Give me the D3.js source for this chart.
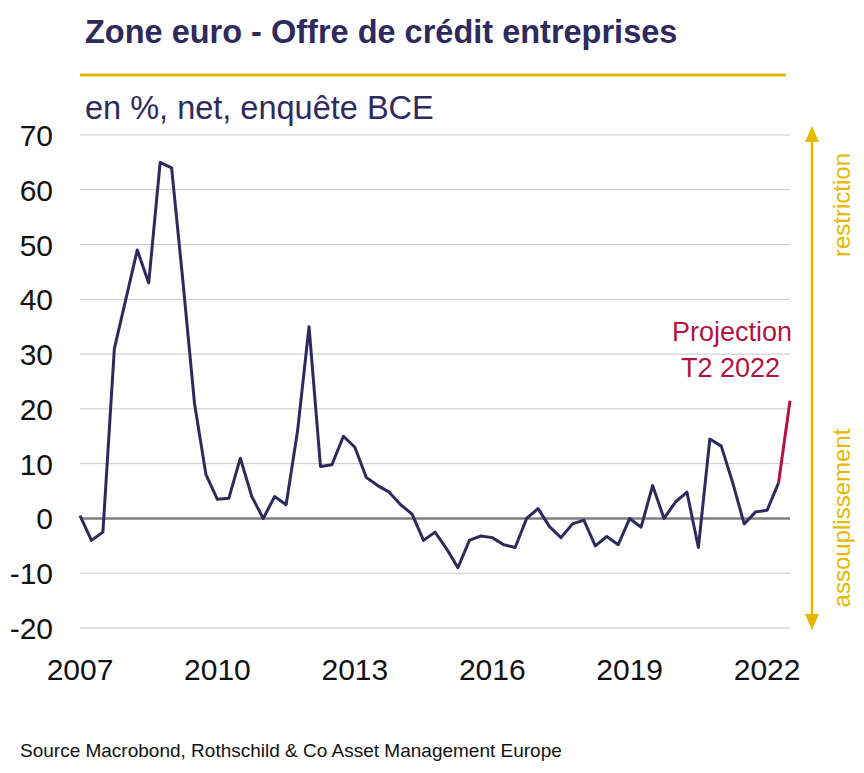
<!DOCTYPE html>
<html><head><meta charset="utf-8">
<script src="https://cdn.jsdelivr.net/npm/d3@7"></script>
<style>body{margin:0;background:#fff;font-family:"Liberation Sans",Arial,sans-serif}</style>
</head><body><div id="chart"></div>
<script>
// quarterly values, 2007 T1 .. 2022 T1
const values = [0.5,-4,-2.5,31,40,49,43,65,64,43,21,8,3.5,3.7,11,4,0,4,2.5,16,35,9.5,9.8,15,13,7.5,6,4.8,2.5,0.8,
  -4,-2.5,-5.5,-9,-4,-3.2,-3.5,-4.8,-5.3,0,1.8,-1.5,-3.5,-1,-0.3,-5,-3.3,-4.8,0,-1.6,6,0,3,4.8,-5.3,14.5,13.2,6.5,-1,1.2,1.5,6.5];
const projection = [6.5, 21.5];
const yTicks = [70,60,50,40,30,20,10,0,-10,-20];
const xLabels = [2007,2010,2013,2016,2019,2022];

const navy = "#2e2a5e", gold = "#e6b800", red = "#b5133f";
const W = 864, H = 773;
const svg = d3.select("#chart").append("svg").attr("width", W).attr("height", H);

const x = d3.scaleLinear().domain([0, values.length]).range([80, 790]);
const y = d3.scaleLinear().domain([-20, 70]).range([628, 135]);
const xl = d3.scaleLinear().domain([2007, 2022]).range([x(0), x(60)]);

svg.append("text").attr("x", 85).attr("y", 43).attr("fill", navy)
  .attr("font-size", 32.5).attr("font-weight", "bold").text("Zone euro - Offre de crédit entreprises");
svg.append("line").attr("x1", 80).attr("x2", 786).attr("y1", 75).attr("y2", 75)
  .attr("stroke", gold).attr("stroke-width", 3);
svg.append("text").attr("x", 85).attr("y", 119).attr("fill", navy)
  .attr("font-size", 32.5).text("en %, net, enquête BCE");

// gridlines
svg.append("g").selectAll("line").data(yTicks).join("line")
  .attr("x1", 80).attr("x2", 790).attr("y1", d => y(d)).attr("y2", d => y(d))
  .attr("stroke", d => d === 0 ? "#7f7f7f" : "#c8c8c8").attr("stroke-width", d => d === 0 ? 2.5 : 1);

svg.append("g").selectAll("text").data(yTicks).join("text")
  .attr("x", 53).attr("y", d => y(d) + 11).attr("text-anchor", "end")
  .attr("font-size", 30).attr("fill", "#111").text(d => d);

svg.append("g").selectAll("text").data(xLabels).join("text")
  .attr("x", d => xl(d)).attr("y", 680).attr("text-anchor", "middle")
  .attr("font-size", 30).attr("fill", "#111").text(d => d);

const line = d3.line().x((d, i) => x(i)).y(d => y(d));
svg.append("path").attr("d", line(values)).attr("fill", "none")
  .attr("stroke", navy).attr("stroke-width", 3).attr("stroke-linejoin", "round");
const n = values.length - 1;
svg.append("path").attr("d", d3.line().x((d, i) => x(n + i)).y(d => y(d))(projection))
  .attr("fill", "none").attr("stroke", red).attr("stroke-width", 3);

svg.append("text").attr("x", 792).attr("y", 341).attr("text-anchor", "end")
  .attr("fill", red).attr("font-size", 27).text("Projection");
svg.append("text").attr("x", 780).attr("y", 377).attr("text-anchor", "end")
  .attr("fill", red).attr("font-size", 27).text("T2 2022");

// right arrow
const ax = 812;
svg.append("line").attr("x1", ax).attr("x2", ax).attr("y1", 140).attr("y2", 616)
  .attr("stroke", gold).attr("stroke-width", 2.5);
svg.append("path").attr("d", `M${ax-7},142 L${ax},126 L${ax+7},142 Z`).attr("fill", gold);
svg.append("path").attr("d", `M${ax-7},614 L${ax},630 L${ax+7},614 Z`).attr("fill", gold);
svg.append("text").attr("transform", "translate(850,205) rotate(-90)").attr("text-anchor", "middle")
  .attr("fill", gold).attr("font-size", 24).text("restriction");
svg.append("text").attr("transform", "translate(850,518) rotate(-90)").attr("text-anchor", "middle")
  .attr("fill", gold).attr("font-size", 24).text("assouplissement");

svg.append("text").attr("x", 20).attr("y", 757).attr("font-size", 19).attr("fill", "#111")
  .text("Source Macrobond, Rothschild & Co Asset Management Europe");
</script></body></html>
